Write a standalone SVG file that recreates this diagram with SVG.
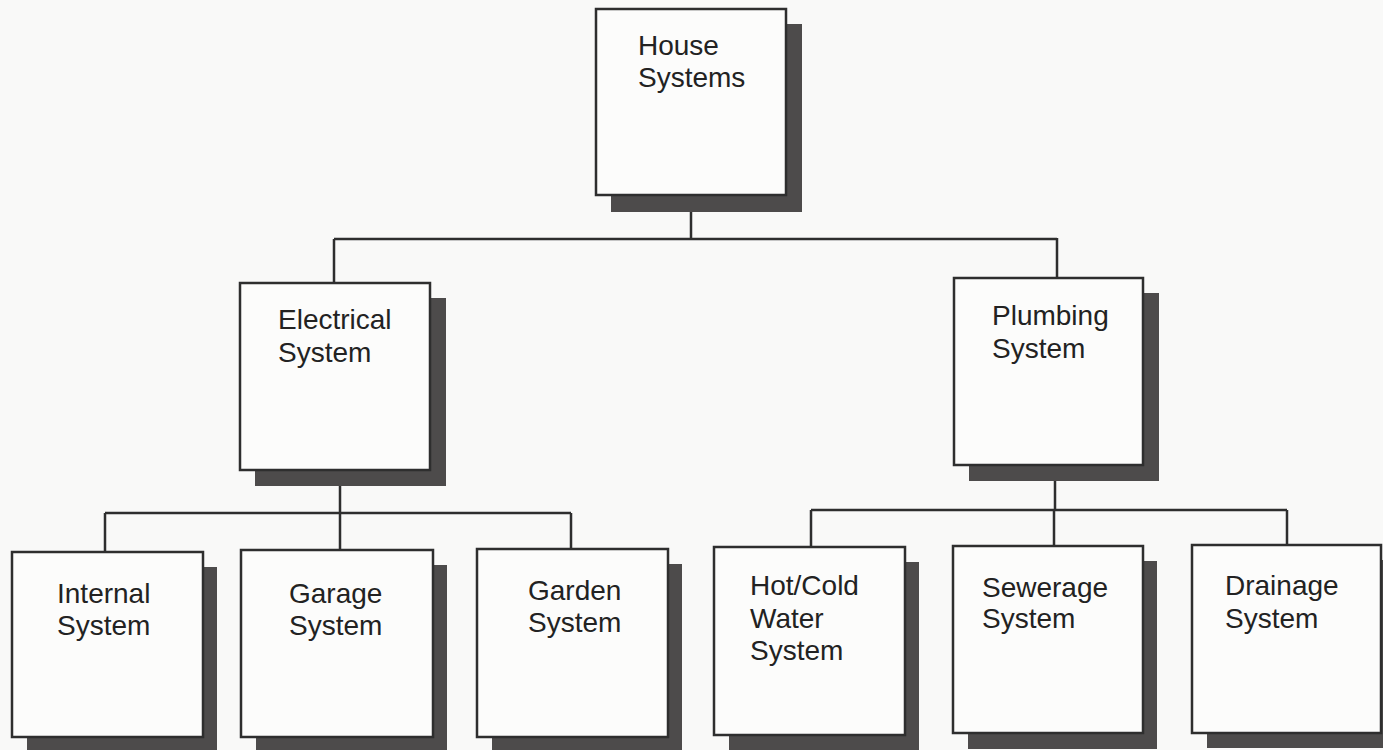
<svg xmlns="http://www.w3.org/2000/svg" width="1383" height="750" viewBox="0 0 1383 750">
<style>
.bg{fill:#f9f9f8}
.sh{fill:#4d4b4b}
.bx{fill:#fcfcfb;stroke:#2e2e2e;stroke-width:2.5}
.t{font-family:"Liberation Sans",Arial,sans-serif;font-size:28px;fill:#222}
.c{fill:none;stroke:#2e2e2e;stroke-width:2.5}
</style>
<rect class="bg" x="0" y="0" width="1383" height="750"/>
<g id="connectors">
<path class="c" d="M691 212 V238 M334 239 H1057 M334 239 V283 M1057 238 V278"/>
<path class="c" d="M340 486 V513 M105 513 H571 M105 513 V552 M340 513 V550 M571 513 V549"/>
<path class="c" d="M1055 481 V510 M811 510 H1287 M811 510 V547 M1054 510 V546 M1287 510 V545"/>
</g>
<g id="house">
<rect class="sh" x="611" y="24" width="191" height="188"/>
<rect class="bx" x="596" y="9" width="190" height="186"/>
<text class="t" x="638" y="55">House</text>
<text class="t" x="638" y="87">Systems</text>
</g>
<g id="electrical">
<rect class="sh" x="255" y="298" width="191" height="188"/>
<rect class="bx" x="240" y="283" width="190" height="187"/>
<text class="t" x="278" y="329">Electrical</text>
<text class="t" x="278" y="362">System</text>
</g>
<g id="plumbing">
<rect class="sh" x="969" y="293" width="190" height="188"/>
<rect class="bx" x="954" y="278" width="189" height="187"/>
<text class="t" x="992" y="325">Plumbing</text>
<text class="t" x="992" y="358">System</text>
</g>
<g id="internal">
<rect class="sh" x="27" y="567" width="190" height="190"/>
<rect class="bx" x="12" y="552" width="191" height="185"/>
<text class="t" x="57" y="603">Internal</text>
<text class="t" x="57" y="635">System</text>
</g>
<g id="garage">
<rect class="sh" x="256" y="565" width="191" height="190"/>
<rect class="bx" x="241" y="550" width="192" height="187"/>
<text class="t" x="289" y="603">Garage</text>
<text class="t" x="289" y="635">System</text>
</g>
<g id="garden">
<rect class="sh" x="492" y="564" width="190" height="190"/>
<rect class="bx" x="477" y="549" width="191" height="188"/>
<text class="t" x="528" y="600">Garden</text>
<text class="t" x="528" y="632">System</text>
</g>
<g id="hotcold">
<rect class="sh" x="729" y="562" width="190" height="190"/>
<rect class="bx" x="714" y="547" width="191" height="188"/>
<text class="t" x="750" y="595">Hot/Cold</text>
<text class="t" x="750" y="628">Water</text>
<text class="t" x="750" y="660">System</text>
</g>
<g id="sewerage">
<rect class="sh" x="968" y="561" width="189" height="188"/>
<rect class="bx" x="953" y="546" width="190" height="187"/>
<text class="t" x="982" y="597">Sewerage</text>
<text class="t" x="982" y="628">System</text>
</g>
<g id="drainage">
<rect class="sh" x="1207" y="560" width="190" height="188"/>
<rect class="bx" x="1192" y="545" width="189" height="188"/>
<text class="t" x="1225" y="595">Drainage</text>
<text class="t" x="1225" y="628">System</text>
</g>
</svg>
